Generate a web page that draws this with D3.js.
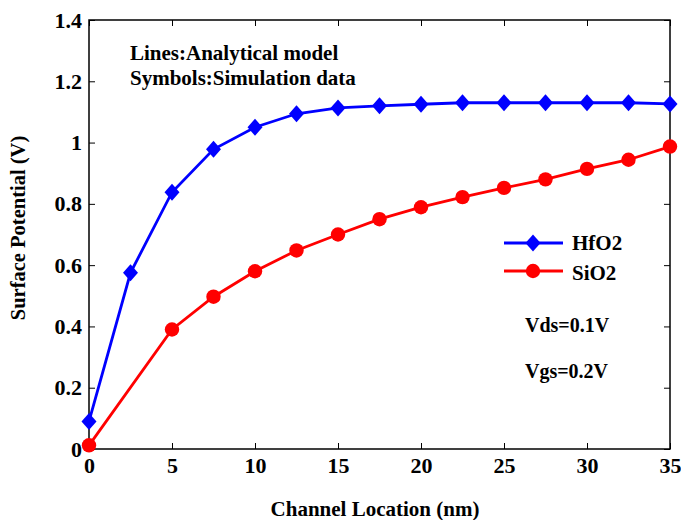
<!DOCTYPE html>
<html><head><meta charset="utf-8">
<script src="https://cdn.jsdelivr.net/npm/d3@7"></script>
<style>body{margin:0;background:#fff}</style>
</head><body><svg id="c" width="681" height="520"></svg>
<script>
const xHf = [0,2.5,5,7.5,10,12.5,15,17.5,20,22.5,25,27.5,30,32.5,35];
const yHf = [0.09,0.575,0.838,0.978,1.05,1.094,1.113,1.12,1.125,1.13,1.13,1.13,1.13,1.13,1.126];
const xSi = [0,5,7.5,10,12.5,15,17.5,20,22.5,25,27.5,30,32.5,35];
const ySi = [0.012,0.39,0.497,0.58,0.648,0.70,0.75,0.789,0.822,0.852,0.880,0.914,0.944,0.987];
const xTicks = [0,5,10,15,20,25,30,35];
const yTicks = [0,0.2,0.4,0.6,0.8,1,1.2,1.4];
const seriesNames = ["HfO2","SiO2"];
const notes = ["Lines:Analytical model","Symbols:Simulation data"];
const conds = ["Vds=0.1V","Vgs=0.2V"];

const FF = "Liberation Serif";
const svg = d3.select("#c").attr("font-family",FF).attr("font-weight","bold");
const L=89,R=670,T=20,B=449;
const x = d3.scaleLinear().domain([0,35]).range([L,R]);
const y = d3.scaleLinear().domain([0,1.4]).range([B,T]);

svg.append("rect").attr("x",L).attr("y",T).attr("width",R-L).attr("height",B-T).attr("fill","none").attr("stroke","#000").attr("stroke-width",1.5);

const ax = (g)=>{g.attr("font-family",FF).attr("font-weight","bold");g.selectAll(".domain").remove();g.selectAll("text").attr("font-size",22).attr("fill","#000");g.selectAll("line").attr("stroke","#000").attr("stroke-width",1);};
svg.append("g").attr("transform",`translate(0,${B})`).call(d3.axisBottom(x).tickValues(xTicks).tickSize(-6).tickPadding(8).tickFormat(d3.format("d"))).call(ax);
svg.append("g").attr("transform",`translate(0,${T})`).call(d3.axisTop(x).tickValues(xTicks).tickSize(-6).tickFormat("")).call(ax);
svg.append("g").attr("transform",`translate(${L},0)`).call(d3.axisLeft(y).tickValues(yTicks).tickSize(-6).tickPadding(7).tickFormat(d=>d3.format("~g")(d))).call(ax);
svg.append("g").attr("transform",`translate(${R},0)`).call(d3.axisRight(y).tickValues(yTicks).tickSize(-6).tickFormat("")).call(ax);

const line = d3.line();
const hf = xHf.map((v,i)=>[x(v),y(yHf[i])]);
const si = xSi.map((v,i)=>[x(v),y(ySi[i])]);
svg.append("path").attr("d",line(hf)).attr("fill","none").attr("stroke","#0000ff").attr("stroke-width",2.8);
svg.append("path").attr("d",line(si)).attr("fill","none").attr("stroke","#ff0000").attr("stroke-width",2.8);
const diamond = (cx,cy)=>`M${cx},${cy-8.5}L${cx+7.5},${cy}L${cx},${cy+8.5}L${cx-7.5},${cy}Z`;
svg.append("g").selectAll("path").data(hf).join("path").attr("d",d=>diamond(d[0],d[1])).attr("fill","#0000ff");
svg.append("g").selectAll("circle").data(si).join("circle").attr("cx",d=>d[0]).attr("cy",d=>d[1]).attr("r",7.2).attr("fill","#ff0000");

const lg = [{c:"#0000ff",y:243,ty:250},{c:"#ff0000",y:271,ty:280}];
lg.forEach((l,i)=>{
  svg.append("line").attr("x1",504).attr("x2",563).attr("y1",l.y).attr("y2",l.y).attr("stroke",l.c).attr("stroke-width",2.8);
  if(i===0) svg.append("path").attr("d",diamond(533,l.y)).attr("fill",l.c);
  else svg.append("circle").attr("cx",533).attr("cy",l.y).attr("r",7.2).attr("fill",l.c);
  svg.append("text").attr("x",572).attr("y",l.ty).attr("font-size",21).text(seriesNames[i]);
});
notes.forEach((t,i)=>svg.append("text").attr("x",130).attr("y",60+i*25).attr("font-size",21).text(t));
conds.forEach((t,i)=>svg.append("text").attr("x",525).attr("y",332+i*46).attr("font-size",20).text(t));

svg.append("text").attr("x",375).attr("y",516).attr("text-anchor","middle").attr("font-size",21).text("Channel Location (nm)");
svg.append("text").attr("transform",`translate(25,228) rotate(-90)`).attr("text-anchor","middle").attr("font-size",20.5).text("Surface Potential (V)");
</script></body></html>
